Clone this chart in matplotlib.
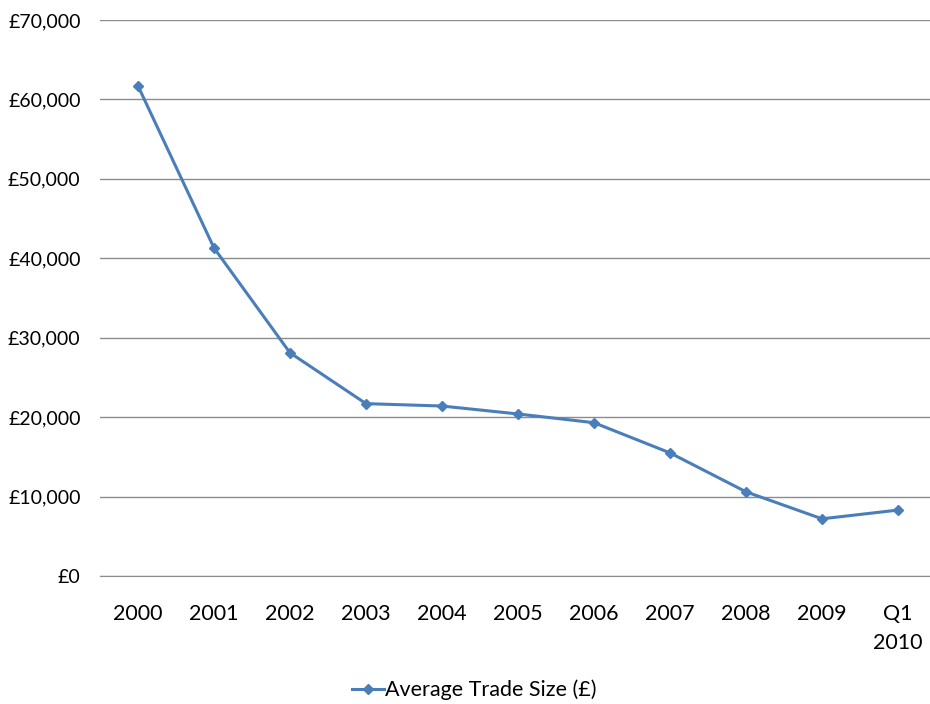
import matplotlib
matplotlib.use("Agg")
import matplotlib.pyplot as plt
from matplotlib.ticker import FuncFormatter

plt.rcParams['font.family'] = ['Lato', 'DejaVu Sans']

categories = ['2000', '2001', '2002', '2003', '2004', '2005', '2006', '2007', '2008', '2009', 'Q1\n2010']
avg_trade = [61700, 41300, 28100, 21700, 21400, 20400, 19300, 15500, 10600, 7200, 8300]

fig = plt.figure(figsize=(9.3, 7.04), dpi=100)
ax = fig.add_axes([100/930, 128/704, 836/930, 556/704])

x = list(range(len(categories)))
ax.plot(x, avg_trade, color='#4A7EBB', linewidth=2.2, marker='D', markersize=5.5,
        label='Average Trade Size (£)')

ax.set_xlim(-0.5, len(categories) - 0.5)
ax.set_ylim(0, 70000)
ax.set_yticks(range(0, 70001, 10000))
ax.yaxis.set_major_formatter(FuncFormatter(lambda v, p: '£{:,.0f}'.format(v)))
ax.set_xticks(x)
ax.set_xticklabels(categories, va='top', ma='center', linespacing=1.55)

ax.grid(axis='y', color='#8c8c8c', linewidth=1)
ax.set_axisbelow(True)
for s in ['top', 'right', 'left']:
    ax.spines[s].set_visible(False)
ax.spines['bottom'].set_color('#8c8c8c')
ax.tick_params(axis='both', length=0, colors='black')
ax.tick_params(axis='y', pad=14, labelsize=14)
ax.tick_params(axis='x', pad=20, labelsize=15.5)

fig.legend(loc='center', bbox_to_anchor=(474/930, 1 - 690/704), frameon=False,
           fontsize=15.5, handlelength=1.5, handletextpad=0.05)

fig.savefig('out.png', dpi=100)
